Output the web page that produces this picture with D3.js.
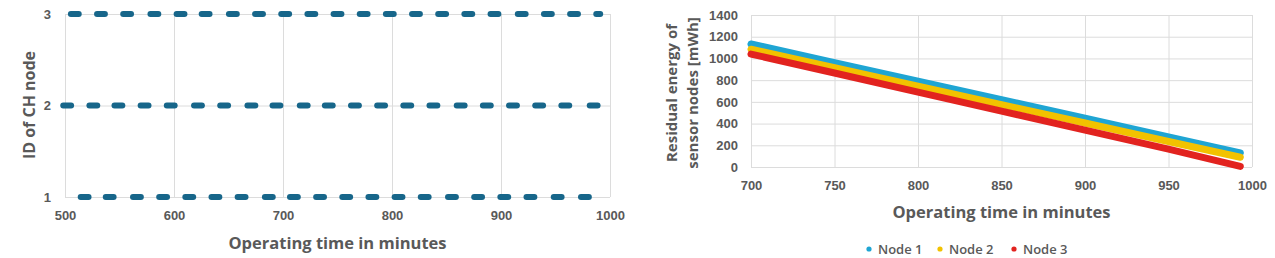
<!DOCTYPE html>
<html>
<head>
<meta charset="utf-8">
<script src="https://cdn.jsdelivr.net/npm/d3@7"></script>
<style>
  body { margin: 0; background: #fff; }
  svg { display: block; font-family: "Open Sans", sans-serif; }
  .tick text { fill: #595959; font-weight: 600; font-size: 13px; }
  .grid line { stroke: #dcdcdc; }
  .grid .domain { display: none; }
  .title { fill: #595959; font-weight: 700; }
</style>
</head>
<body>
<script>
// ---- left chart: which node was cluster head (dash centres in minutes)
const chNodes = [1, 2, 3];
const chNode1 = [518, 541, 566, 590, 614, 638, 662, 687, 710, 734, 758, 782, 806, 830, 855, 879, 903, 927, 952, 977];
const chNode2 = [502, 526, 549, 573, 597, 622, 646, 671, 694, 719, 742, 766, 790, 814, 838, 863, 887, 911, 935, 959, 985];
const chNode3 = [509, 533, 557, 582, 606, 629, 654, 678, 702, 726, 750, 774, 798, 822, 846, 870, 894, 919, 943, 967, 991];
const chEnd = 991;
const leftXTicks = [500, 600, 700, 800, 900, 1000];

// ---- right chart: residual energy
const timeMin = [700, 750, 800, 850, 900, 950, 993];
const energyNode1 = [1133, 962, 790, 620, 450, 278, 129];
const energyNode2 = [1085, 915, 745, 575, 405, 235, 90];
const energyNode3 = [1040, 866, 690, 515, 340, 165, 5];
const seriesNames = ["Node 1", "Node 2", "Node 3"];
const seriesColors = ["#1fa5d3", "#f2c200", "#e2231f"];
const rightXTicks = [700, 750, 800, 850, 900, 950, 1000];
const rightYTicks = [0, 200, 400, 600, 800, 1000, 1200, 1400];

const svg = d3.select("body").append("svg")
  .attr("width", 1275)
  .attr("height", 258);

// ================= left chart =================
const x1 = d3.scaleLinear().domain([500, 1000]).range([65, 610]);
const y1 = d3.scaleLinear().domain([1, 3]).range([197, 14]);

svg.append("g")
  .attr("class", "grid")
  .attr("transform", "translate(0,197)")
  .call(d3.axisBottom(x1).tickValues(leftXTicks).tickSize(-183).tickPadding(14).tickFormat(d3.format("d")))
  .selectAll(".tick text").attr("dy", "0.71em");

svg.append("g")
  .attr("class", "grid")
  .attr("transform", "translate(65,0)")
  .call(d3.axisLeft(y1).tickValues(chNodes).tickSize(-545).tickPadding(14).tickFormat(d3.format("d")));

const dashHalf = 3.6;
const chData = [chNode1, chNode2, chNode3];
chData.forEach((centres, i) => {
  svg.append("g").selectAll("line")
    .data(centres)
    .enter().append("line")
    .attr("x1", d => x1(d - dashHalf))
    .attr("x2", d => x1(Math.min(d + dashHalf, chEnd)))
    .attr("y1", y1(chNodes[i]))
    .attr("y2", y1(chNodes[i]))
    .attr("stroke", "#17668a")
    .attr("stroke-width", 6)
    .attr("stroke-linecap", "round");
});

svg.append("text")
  .attr("class", "title")
  .attr("x", 337.5)
  .attr("y", 249)
  .attr("text-anchor", "middle")
  .style("font-size", "16.5px")
  .text("Operating time in minutes");

svg.append("text")
  .attr("class", "title")
  .attr("transform", "translate(35,105) rotate(-90)")
  .attr("text-anchor", "middle")
  .style("font-size", "16px")
  .text("ID of CH node");

// ================= right chart =================
const x2 = d3.scaleLinear().domain([700, 1000]).range([751, 1252]);
const y2 = d3.scaleLinear().domain([0, 1400]).range([167, 15]);

svg.append("g")
  .attr("class", "grid")
  .attr("transform", "translate(0,167)")
  .call(d3.axisBottom(x2).tickValues(rightXTicks).tickSize(-152).tickPadding(14).tickFormat(d3.format("d")))
  .selectAll(".tick text").attr("dy", "0.71em");

svg.append("g")
  .attr("class", "grid")
  .attr("transform", "translate(751,0)")
  .call(d3.axisLeft(y2).tickValues(rightYTicks).tickSize(-501).tickPadding(13).tickFormat(d3.format("d")));

const energy = [energyNode1, energyNode2, energyNode3];
const line = d3.line()
  .x((d, i) => x2(timeMin[i]))
  .y(d => y2(d));

energy.forEach((vals, i) => {
  svg.append("path")
    .datum(vals)
    .attr("d", line)
    .attr("fill", "none")
    .attr("stroke", seriesColors[i])
    .attr("stroke-width", 7)
    .attr("stroke-linecap", "round");
});

svg.append("text")
  .attr("class", "title")
  .attr("x", 1001.5)
  .attr("y", 218)
  .attr("text-anchor", "middle")
  .style("font-size", "16.5px")
  .text("Operating time in minutes");

const yTitle = svg.append("text")
  .attr("class", "title")
  .attr("transform", "translate(677,93) rotate(-90)")
  .attr("text-anchor", "middle")
  .style("font-size", "15px");
yTitle.append("tspan").attr("x", 0).attr("dy", 0).text("Residual energy of");
yTitle.append("tspan").attr("x", 0).attr("dy", 21).text("sensor nodes [mWh]");

// legend
const legendX = [869, 940, 1014];
const legend = svg.append("g")
  .selectAll("g")
  .data(seriesNames)
  .enter().append("g")
  .attr("transform", (d, i) => "translate(" + legendX[i] + ",249)");

legend.append("circle")
  .attr("r", 2.6)
  .attr("fill", (d, i) => seriesColors[i]);

legend.append("text")
  .attr("x", 9)
  .attr("dy", "0.35em")
  .attr("fill", "#595959")
  .style("font-size", "13px")
  .style("font-weight", 600)
  .text(d => d);
</script>
</body>
</html>
